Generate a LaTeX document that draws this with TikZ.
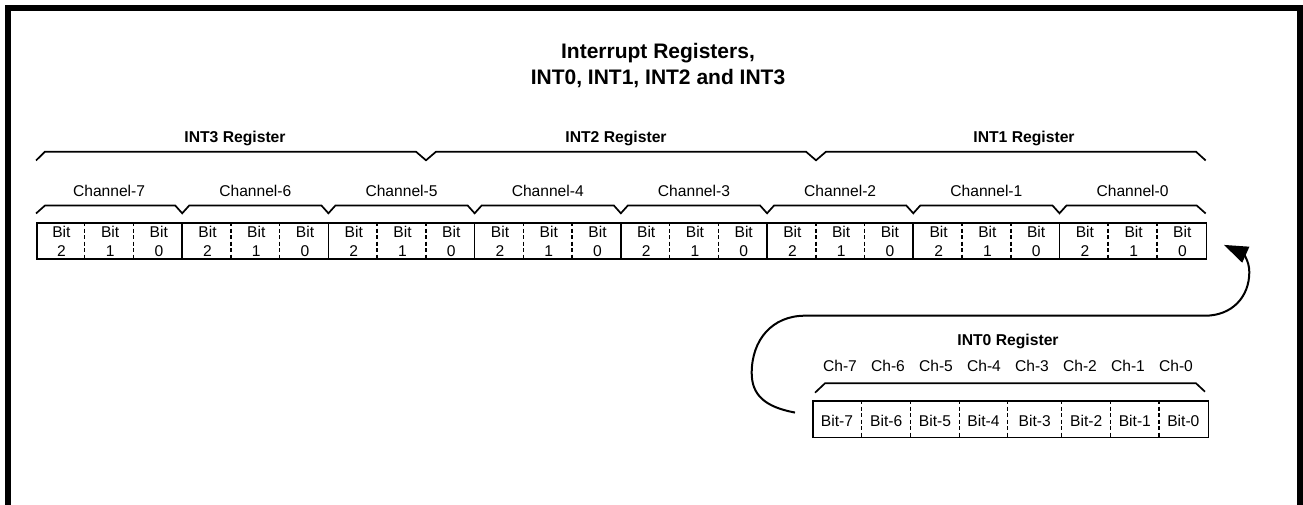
\documentclass[tikz,border=0pt]{standalone}
\usepackage{fontspec}
\setmainfont{Liberation Sans}
\usetikzlibrary{arrows.meta}
\begin{document}
\begin{tikzpicture}[x=1pt,y=-1pt,
  reg/.style={font=\fontsize{15.7}{18}\selectfont\bfseries, inner sep=0pt, anchor=base},
  lbl/.style={font=\fontsize{15.6}{18}\selectfont, inner sep=0pt, anchor=base},
  ttl/.style={font=\fontsize{21}{25}\selectfont\bfseries, inner sep=0pt, anchor=base},
  boxline/.style={line width=1.6pt},
  regbox/.style={draw, line width=1.6pt, inner sep=0pt, anchor=north west},
  divdash/.style={line width=1.5pt, dash pattern=on 4pt off 2.5pt},
  brace/.style={line width=1.7pt, line join=miter},
  loopline/.style={line width=2pt, -{Triangle[length=24pt,width=17pt]}},
  frameline/.style={line width=6pt}
]
\useasboundingbox (0,0) rectangle (1303,505);
\clip (0,0) rectangle (1303,505);
\draw[frameline] (8,8) rectangle (1300,600);

% title
\node[ttl] (t1) at (658,59) {Interrupt Registers,};
\node[ttl] (t2) at (658,84.3) {INT0, INT1, INT2 and INT3};

% register labels
\node[reg] (r3) at (235,143) {INT3 Register};
\node[reg] (r2) at (616,143) {INT2 Register};
\node[reg] (r1) at (1024,143) {INT1 Register};

% register brace
\draw[brace] (36,160.5) -- (45,151.7) -- (416,151.7) -- (426,160.3) -- (436,151.7)
  -- (806,151.7) -- (816,160.3) -- (826,151.7) -- (1196,151.7) -- (1205.7,160.5);

% channel braces
\draw[brace] (36,213.5) -- (45,205.5)
  \foreach \k in {1,...,7} { -- ({36+146.2125*\k-7},205.5) -- ({36+146.2125*\k},213.3) -- ({36+146.2125*\k+7},205.5) }
  -- (1196.7,205.5) -- (1205.7,213.5);

% channel labels
\foreach \c in {0,...,7}
  \node[lbl] (ch\c) at ({36+146.2125*(7-\c)+73.106},196.7) {Channel-\c};

% bit row box
\node[regbox, minimum width=1169.7pt, minimum height=36.3pt] (bits) at (36,222) {};
\foreach \k in {3,6,...,21}
  \draw[boxline] ({36+48.7375*\k},222) -- ({36+48.7375*\k},258.3);
\foreach \k in {1,2,4,5,7,8,10,11,13,14,16,17,19,20,22,23}
  \draw[divdash] ({36+48.7375*\k},222) -- ({36+48.7375*\k},258.3);
\foreach \k in {0,...,23} {
  \pgfmathtruncatemacro\b{2-mod(\k,3)}
  \node[lbl] (bt\k) at ({36+48.7375*(\k+0.5)+1},237.3) {Bit};
  \node[lbl] (bn\k) at ({36+48.7375*(\k+0.5)+1},256.7) {\b};
}

% INT0 register
\node[reg] (r0) at (1008,345.7) {INT0 Register};
\foreach \c in {0,...,7}
  \node[lbl] (sc\c) at ({840+48*(7-\c)},371.7) {Ch-\c};
\draw[brace] (815,392.7) -- (825,383.3) -- (1196,383.3) -- (1205,391.7);
\node[regbox, minimum width=395.4pt, minimum height=36.7pt] (int0) at (812.3,400) {};
\foreach \x in {861.7,910.7,959.3,1007.7,1061.7,1110.7,1159}
  \draw[divdash] (\x,400) -- (\x,436.7);
\foreach \xa/\xb/\n in {812.3/861.7/7,861.7/910.7/6,910.7/959.3/5,959.3/1007.7/4,1007.7/1061.7/3,1061.7/1110.7/2,1110.7/1159/1,1159/1207.7/0}
  \node[lbl] (zb\n) at ({(\xa+\xb)/2},426.7) {Bit-\n};

% loop arrow from INT0 to the top register row
\coordinate (ls) at ([xshift=-17.3pt,yshift=6.6pt]int0.west);
\coordinate (le) at ([xshift=16.6pt,yshift=15pt]bits.south east);
\draw[loopline] (ls) .. controls (765,407) and (751.7,395) .. (751.7,373)
  .. controls (751.7,340) and (772,315.7) .. (805,315.7) -- (1205,315.7)
  .. controls (1232,315.7) and (1249.3,297) .. (1249.3,272)
  .. controls (1249.3,260) and (1242,253) .. (le);
\end{tikzpicture}
\end{document}
